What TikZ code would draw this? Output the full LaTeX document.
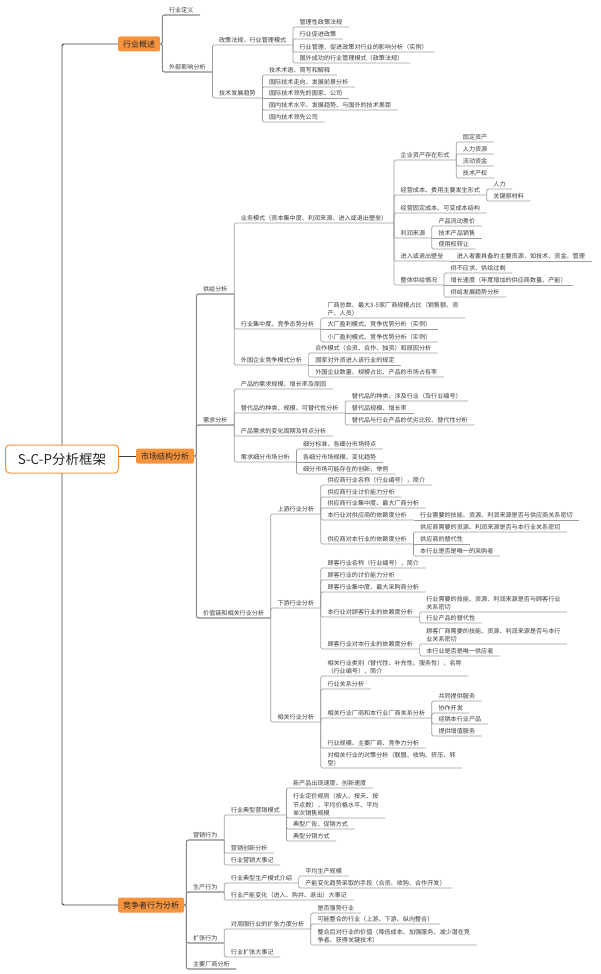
\documentclass[tikz,border=0pt]{standalone}
\usepackage{fontspec}
\setmainfont{Noto Sans CJK SC}
\usepackage{xcolor}
\usepackage{tikz}

\definecolor{xorange}{HTML}{F6943E}
\definecolor{linegray}{HTML}{9C9C9C}
\definecolor{textgray}{HTML}{3A3A3A}

\tikzset{
    topic/.style={anchor=south west, inner xsep=6.5pt, inner ysep=1.6pt, align=left,
        text=textgray, font=\fontsize{6.1}{8.4}\selectfont},
    catbox/.style={anchor=west, fill=xorange, rounded corners=1.5pt, inner xsep=5pt,
        minimum height=15pt, text=black!85, font=\fontsize{8}{10}\selectfont},
    rootbox/.style={draw=xorange, line width=1pt, fill=white, rounded corners=4pt,
        minimum width=113pt, minimum height=28pt, text=black!85,
        font=\fontsize{13.5}{16}\selectfont},
    trunk/.style={draw=black!75, line width=0.9pt, rounded corners=2pt},
    branch/.style={draw=linegray!85!black, line width=1.1pt, rounded corners=2pt},
    link/.style={draw=linegray, line width=0.7pt, rounded corners=1.5pt}
}

\begin{document}
\begin{tikzpicture}[x=1pt, y=-1pt]

\useasboundingbox (0,0) rectangle (600,974);

\node[rootbox] (root) at (62,459) {S-C-P分析框架};
\node[catbox] (ovw)  at (118,44)  {行业概述};
\node[catbox] (mkt)  at (136,456) {市场结构分析};
\node[catbox] (comp) at (118,905) {竞争者行为分析};
\coordinate (ovwj)  at ([xshift=2pt]ovw.east);
\coordinate (mktj)  at ([xshift=2pt]mkt.east);
\coordinate (compj) at ([xshift=2pt]comp.east);

\draw[trunk] (root.north) |- (ovw.west);
\draw[trunk] (root.south) |- (comp.west);
\draw[trunk] (root.east |- mkt.west) -- (mkt.west);

% 行业概述
\node[topic] (def)   at (ovwj |- 0,15) {行业定义};
\node[topic] (ext)   at (ovwj |- 0,72) {外部影响分析};
\node[topic] (pol)   at (ext.south east |- 0,45) {政策法规、行业管理模式};
\node[topic] (tech)  at (ext.south east |- 0,98) {技术发展趋势};
\node[topic] (pol1)  at (pol.south east |- 0,27) {管理性政策法规};
\node[topic] (pol2)  at (pol.south east |- 0,39) {行业促进政策};
\node[topic] (pol3)  at (pol.south east |- 0,52) {行业管理、促进政策对行业的影响分析（实例）};
\node[topic] (pol4)  at (pol.south east |- 0,63) {国外成功的行业管理模式（政策法规）};
\node[topic] (tech1) at (tech.south east |- 0,75)  {技术术语、简写和解释};
\node[topic] (tech2) at (tech.south east |- 0,87)  {国际技术走向、发展前景分析};
\node[topic] (tech3) at (tech.south east |- 0,98)  {国际技术领先的国家、公司};
\node[topic] (tech4) at (tech.south east |- 0,110) {国内技术水平、发展趋势、与国外的技术差距};
\node[topic] (tech5) at (tech.south east |- 0,122) {国内技术领先公司};

\draw[branch] (ovw.east) -- (ovwj) |- (def.south east);
\draw[branch] (ovw.east) -- (ovwj) |- (ext.south east);
\draw[link] (ext.south east) |- (pol.south east);
\draw[link] (ext.south east) |- (tech.south east);
\draw[link] (pol.south east) |- (pol1.south east);
\draw[link] (pol.south east) |- (pol2.south east);
\draw[link] (pol.south east) |- (pol3.south east);
\draw[link] (pol.south east) |- (pol4.south east);
\draw[link] (tech.south east) |- (tech1.south east);
\draw[link] (tech.south east) |- (tech2.south east);
\draw[link] (tech.south east) -- (tech3.south east);
\draw[link] (tech.south east) |- (tech4.south east);
\draw[link] (tech.south east) |- (tech5.south east);

% 市场结构分析 -- 供给
\node[topic] (sup)   at (mktj |- 0,294) {供给分析};
\node[topic] (dem)   at (mktj |- 0,425) {需求分析};
\node[topic] (val)   at (mktj |- 0,618) {价值链和相关行业分析};
\node[topic] (biz)   at (sup.south east |- 0,223) {业务模式（资本集中度、利润来源、进入或退出壁垒）};
\node[topic] (conc)  at (sup.south east |- 0,329) {行业集中度、竞争态势分析};
\node[topic] (frn)   at (sup.south east |- 0,365) {外国企业竞争模式分析};
\node[topic] (asset) at (biz.south east |- 0,160) {企业资产存在形式};
\node[topic] (cost)  at (biz.south east |- 0,195) {经营成本、费用主要发生形式};
\node[topic] (fix)   at (biz.south east |- 0,213) {经营固定成本、可变成本结构};
\node[topic] (prof)  at (biz.south east |- 0,238) {利润来源};
\node[topic] (barr)  at (biz.south east |- 0,261) {进入或退出壁垒};
\node[topic] (whole) at (biz.south east |- 0,285) {整体供给情况};
\node[topic] (a1) at (asset.south east |- 0,142) {固定资产};
\node[topic] (a2) at (asset.south east |- 0,154) {人力资源};
\node[topic] (a3) at (asset.south east |- 0,166) {流动资金};
\node[topic] (a4) at (asset.south east |- 0,178) {技术产权};
\node[topic] (c1) at (cost.south east |- 0,189) {人力};
\node[topic] (c2) at (cost.south east |- 0,201) {关键原材料};
\node[topic] (p1) at (prof.south east |- 0,226) {产品流动差价};
\node[topic] (p2) at (prof.south east |- 0,238) {技术产品销售};
\node[topic] (p3) at (prof.south east |- 0,249) {使用权转让};
\node[topic] (b1) at (barr.south east |- 0,261) {进入者要具备的主要资源，如技术、资金、管理};
\node[topic] (w1) at (whole.south east |- 0,273) {供不应求、供给过剩};
\node[topic] (w2) at (whole.south east |- 0,285) {增长速度（年度增加的供应商数量、产能）};
\node[topic] (w3) at (whole.south east |- 0,297) {供给发展趋势分析};
\node[topic] (n1) at (conc.south east |- 0,318) {厂商总数、最大3-5家厂商规模占比（销售额、资\\产、人员）};
\node[topic] (n2) at (conc.south east |- 0,329) {大厂盈利模式、竞争优势分析（实例）};
\node[topic] (n3) at (conc.south east |- 0,342) {小厂盈利模式、竞争优势分析（实例）};
\node[topic] (f1) at (frn.south east |- 0,353) {合作模式（合资、合作、独资）和原因分析};
\node[topic] (f2) at (frn.south east |- 0,365) {国家对外资进入该行业的规定};
\node[topic] (f3) at (frn.south east |- 0,377) {外国企业数量、规模占比、产品的市场占有率};

\draw[branch] (mkt.east) -- (mktj) |- (sup.south east);
\draw[branch] (mkt.east) -- (mktj) |- (dem.south east);
\draw[branch] (mkt.east) -- (mktj) |- (val.south east);
\draw[link] (sup.south east) |- (biz.south east);
\draw[link] (sup.south east) |- (conc.south east);
\draw[link] (sup.south east) |- (frn.south east);
\draw[link] (biz.south east) |- (asset.south east);
\draw[link] (biz.south east) |- (cost.south east);
\draw[link] (biz.south east) |- (fix.south east);
\draw[link] (biz.south east) |- (prof.south east);
\draw[link] (biz.south east) |- (barr.south east);
\draw[link] (biz.south east) |- (whole.south east);
\draw[link] (asset.south east) |- (a1.south east);
\draw[link] (asset.south east) |- (a2.south east);
\draw[link] (asset.south east) |- (a3.south east);
\draw[link] (asset.south east) |- (a4.south east);
\draw[link] (cost.south east) |- (c1.south east);
\draw[link] (cost.south east) |- (c2.south east);
\draw[link] (prof.south east) |- (p1.south east);
\draw[link] (prof.south east) -- (p2.south east);
\draw[link] (prof.south east) |- (p3.south east);
\draw[link] (barr.south east) -- (b1.south east);
\draw[link] (whole.south east) |- (w1.south east);
\draw[link] (whole.south east) -- (w2.south east);
\draw[link] (whole.south east) |- (w3.south east);
\draw[link] (conc.south east) |- (n1.south east);
\draw[link] (conc.south east) -- (n2.south east);
\draw[link] (conc.south east) |- (n3.south east);
\draw[link] (frn.south east) |- (f1.south east);
\draw[link] (frn.south east) -- (f2.south east);
\draw[link] (frn.south east) |- (f3.south east);

% 市场结构分析 -- 需求
\node[topic] (d1) at (dem.south east |- 0,389) {产品的需求规模、增长率及原因};
\node[topic] (d2) at (dem.south east |- 0,413) {替代品的种类、规模、可替代性分析};
\node[topic] (d3) at (dem.south east |- 0,436) {产品需求的变化周期及特点分析};
\node[topic] (d4) at (dem.south east |- 0,462) {需求细分市场分析};
\node[topic] (s1) at (d2.south east |- 0,401) {替代品的种类、涉及行业（及行业编号）};
\node[topic] (s2) at (d2.south east |- 0,413) {替代品规模、增长率};
\node[topic] (s3) at (d2.south east |- 0,425) {替代品与行业产品的优劣比较、替代性分析};
\node[topic] (g1) at (d4.south east |- 0,449) {细分标准、各细分市场特点};
\node[topic] (g2) at (d4.south east |- 0,462) {各细分市场规模、变化趋势};
\node[topic] (g3) at (d4.south east |- 0,474) {细分市场可能存在的创新，举例};

\draw[link] (dem.south east) |- (d1.south east);
\draw[link] (dem.south east) |- (d2.south east);
\draw[link] (dem.south east) |- (d3.south east);
\draw[link] (dem.south east) |- (d4.south east);
\draw[link] (d2.south east) |- (s1.south east);
\draw[link] (d2.south east) -- (s2.south east);
\draw[link] (d2.south east) |- (s3.south east);
\draw[link] (d4.south east) |- (g1.south east);
\draw[link] (d4.south east) -- (g2.south east);
\draw[link] (d4.south east) |- (g3.south east);

% 市场结构分析 -- 价值链
\node[topic] (up)   at (val.south east |- 0,514) {上游行业分析};
\node[topic] (down) at (val.south east |- 0,608) {下游行业分析};
\node[topic] (rel)  at (val.south east |- 0,722) {相关行业分析};
\node[topic] (u1) at (up.south east |- 0,485) {供应商行业名称（行业编号），简介};
\node[topic] (u2) at (up.south east |- 0,497) {供应商行业讨价能力分析};
\node[topic] (u3) at (up.south east |- 0,508) {供应商行业集中度、最大厂商分析};
\node[topic] (u4) at (up.south east |- 0,520) {本行业对供应商的依赖度分析};
\node[topic] (u5) at (up.south east |- 0,544) {供应商对本行业的依赖度分析};
\node[topic] (u41) at (u4.south east |- 0,520) {行业需要的技能、资源、利润来源是否与供应商关系密切};
\node[topic] (u51) at (u5.south east |- 0,532) {供应商需要的资源、利润来源是否与本行业关系密切};
\node[topic] (u52) at (u5.south east |- 0,544) {供应商的替代性};
\node[topic] (u53) at (u5.south east |- 0,556) {本行业是否是唯一的采购者};
\node[topic] (dn1) at (down.south east |- 0,568) {顾客行业名称（行业编号），简介};
\node[topic] (dn2) at (down.south east |- 0,580) {顾客行业的讨价能力分析};
\node[topic] (dn3) at (down.south east |- 0,592) {顾客行业集中度、最大采购商分析};
\node[topic] (dn4) at (down.south east |- 0,617) {本行业对顾客行业的依赖度分析};
\node[topic] (dn5) at (down.south east |- 0,649) {顾客行业对本行业的依赖度分析};
\node[topic] (dn41) at (dn4.south east |- 0,612) {行业需要的技能、资源、利润来源是否与顾客行业\\关系密切};
\node[topic] (dn42) at (dn4.south east |- 0,623) {行业产品的替代性};
\node[topic] (dn51) at (dn5.south east |- 0,644) {顾客厂商需要的技能、资源、利润来源是否与本行\\业关系密切};
\node[topic] (dn52) at (dn5.south east |- 0,656) {本行业是否是唯一供应者};
\node[topic] (r1) at (rel.south east |- 0,676) {相关行业类别（替代性、补充性、服务性），名称\\（行业编号），简介};
\node[topic] (r2) at (rel.south east |- 0,689) {行业关系分析};
\node[topic] (r3) at (rel.south east |- 0,718) {相关行业厂商和本行业厂商关系分析};
\node[topic] (r4) at (rel.south east |- 0,748) {行业规模、主要厂商、竞争力分析};
\node[topic] (r5) at (rel.south east |- 0,768) {对相关行业的对策分析（联盟、收购、挤压、转\\型）};
\node[topic] (r31) at (r3.south east |- 0,701) {共同提供服务};
\node[topic] (r32) at (r3.south east |- 0,713) {协作开发};
\node[topic] (r33) at (r3.south east |- 0,724) {经销本行业产品};
\node[topic] (r34) at (r3.south east |- 0,736) {提供增值服务};

\draw[link] (val.south east) |- (up.south east);
\draw[link] (val.south east) |- (down.south east);
\draw[link] (val.south east) |- (rel.south east);
\draw[link] (up.south east) |- (u1.south east);
\draw[link] (up.south east) |- (u2.south east);
\draw[link] (up.south east) |- (u3.south east);
\draw[link] (up.south east) |- (u4.south east);
\draw[link] (up.south east) |- (u5.south east);
\draw[link] (u4.south east) -- (u41.south east);
\draw[link] (u5.south east) |- (u51.south east);
\draw[link] (u5.south east) -- (u52.south east);
\draw[link] (u5.south east) |- (u53.south east);
\draw[link] (down.south east) |- (dn1.south east);
\draw[link] (down.south east) |- (dn2.south east);
\draw[link] (down.south east) |- (dn3.south east);
\draw[link] (down.south east) |- (dn4.south east);
\draw[link] (down.south east) |- (dn5.south east);
\draw[link] (dn4.south east) |- (dn41.south east);
\draw[link] (dn4.south east) |- (dn42.south east);
\draw[link] (dn5.south east) |- (dn51.south east);
\draw[link] (dn5.south east) |- (dn52.south east);
\draw[link] (rel.south east) |- (r1.south east);
\draw[link] (rel.south east) |- (r2.south east);
\draw[link] (rel.south east) |- (r3.south east);
\draw[link] (rel.south east) |- (r4.south east);
\draw[link] (rel.south east) |- (r5.south east);
\draw[link] (r3.south east) |- (r31.south east);
\draw[link] (r3.south east) |- (r32.south east);
\draw[link] (r3.south east) |- (r33.south east);
\draw[link] (r3.south east) |- (r34.south east);

% 竞争者行为分析
\node[topic] (mkg) at (compj |- 0,840) {营销行为};
\node[topic] (prd) at (compj |- 0,892) {生产行为};
\node[topic] (exp) at (compj |- 0,943) {扩张行为};
\node[topic] (maj) at (compj |- 0,969) {主要厂商分析};
\node[topic] (m1) at (mkg.south east |- 0,815) {行业典型营销模式};
\node[topic] (m2) at (mkg.south east |- 0,853) {营销创新分析};
\node[topic] (m3) at (mkg.south east |- 0,865) {行业营销大事记};
\node[topic] (m11) at (m1.south east |- 0,788) {新产品出现速度、创新速度};
\node[topic] (m12) at (m1.south east |- 0,818) {行业定价规则（按人、按天、按\\节点数），平均价格水平、平均\\单次销售规模};
\node[topic] (m13) at (m1.south east |- 0,829) {典型广告、促销方式};
\node[topic] (m14) at (m1.south east |- 0,841) {典型分销方式};
\node[topic] (q1) at (prd.south east |- 0,883) {行业典型生产模式介绍};
\node[topic] (q2) at (prd.south east |- 0,900) {行业产能变化（进入、购并、退出）大事记};
\node[topic] (q11) at (q1.south east |- 0,876) {平均生产规模};
\node[topic] (q12) at (q1.south east |- 0,888) {产能变化趋势采取的手段（合资、收购、合作开发）};
\node[topic] (e1) at (exp.south east |- 0,929) {对周围行业的扩张力度分析};
\node[topic] (e2) at (exp.south east |- 0,957) {行业扩张大事记};
\node[topic] (e11) at (e1.south east |- 0,913) {是否强势行业};
\node[topic] (e12) at (e1.south east |- 0,924) {可能整合的行业（上游、下游、纵向整合）};
\node[topic] (e13) at (e1.south east |- 0,945) {整合后对行业的价值（降低成本、加强服务、减少潜在竞\\争者、获得关键技术）};

\draw[branch] (comp.east) -- (compj) |- (mkg.south east);
\draw[branch] (comp.east) -- (compj) |- (prd.south east);
\draw[branch] (comp.east) -- (compj) |- (exp.south east);
\draw[branch] (comp.east) -- (compj) |- (maj.south east);
\draw[link] (mkg.south east) |- (m1.south east);
\draw[link] (mkg.south east) |- (m2.south east);
\draw[link] (mkg.south east) |- (m3.south east);
\draw[link] (m1.south east) |- (m11.south east);
\draw[link] (m1.south east) |- (m12.south east);
\draw[link] (m1.south east) |- (m13.south east);
\draw[link] (m1.south east) |- (m14.south east);
\draw[link] (prd.south east) |- (q1.south east);
\draw[link] (prd.south east) |- (q2.south east);
\draw[link] (q1.south east) |- (q11.south east);
\draw[link] (q1.south east) |- (q12.south east);
\draw[link] (exp.south east) |- (e1.south east);
\draw[link] (exp.south east) |- (e2.south east);
\draw[link] (e1.south east) |- (e11.south east);
\draw[link] (e1.south east) |- (e12.south east);
\draw[link] (e1.south east) |- (e13.south east);

\end{tikzpicture}
\end{document}
